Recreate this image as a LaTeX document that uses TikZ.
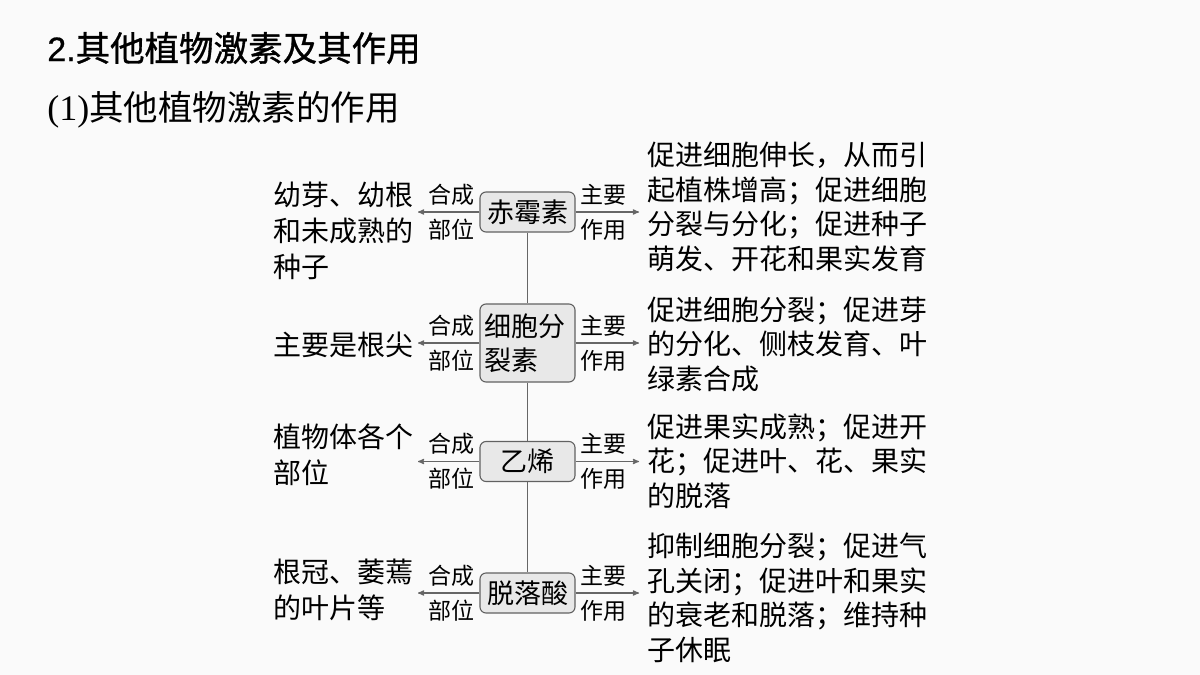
\documentclass[tikz,border=0pt]{standalone}
\usepackage{fontspec}
\setmainfont{Liberation Serif}
\newfontfamily\cjk{Noto Sans CJK SC}
\newfontfamily\cjkhead[FakeBold=1]{Noto Sans CJK SC}
\newfontfamily\arial[FakeBold=0.6]{Liberation Sans}
\usetikzlibrary{arrows, positioning}

\begin{document}
\begin{tikzpicture}[x=1pt, y=-1pt, >=stealth', semithick]
  \tikzstyle{hormone}=[draw=black!62, fill=black!9, rounded corners=6pt, line width=1.1pt, minimum width=95pt, minimum height=40pt, inner sep=4pt, font=\cjk\fontsize{27}{34}\selectfont]
  \tikzstyle{tag}=[inner sep=0pt, align=center, font=\cjk\fontsize{23}{35}\selectfont]
  \tikzstyle{source}=[anchor=west, inner sep=0pt, align=left, font=\cjk\fontsize{28}{36}\selectfont]
  \tikzstyle{effect}=[anchor=west, inner sep=0pt, align=left, font=\cjk\fontsize{28}{34.5}\selectfont]
  \tikzstyle{link}=[draw=black!60, line width=1.2pt]
  \fill[black!2] (0,0) rectangle (1200,675);
  \useasboundingbox (0,0) rectangle (1200,675);
  % headings
  \node[anchor=west, inner sep=0pt] (h1) at (47,48) {\arial\fontsize{34}{36}\selectfont 2.\cjkhead\fontsize{34.5}{36}\selectfont 其他植物激素及其作用};
  \node[anchor=west, inner sep=0pt] (h2) at (47,110) {\fontsize{36}{36}\selectfont (1)\cjk\fontsize{34.5}{36}\selectfont 其他植物激素的作用};
  % hormones
  \node[hormone] (g1) at (527.5,212) {赤霉素};
  \node[hormone, minimum height=78pt, text width=87pt, align=left] (g2) at (527.5,343) {细胞分\\裂素};
  \node[hormone] (g3) at (527.5,461.5) {乙烯};
  \node[hormone] (g4) at (527.5,593) {脱落酸};
  \draw[link] (g1) -- (g2);
  \draw[link] (g2) -- (g3);
  \draw[link] (g3) -- (g4);
  % arrows and tags
  \foreach \g/\y in {g1/212, g2/343, g3/461.5, g4/593}{
    \coordinate (\g l) at (418,\y);
    \coordinate (\g r) at (639,\y);
    \draw[link, ->] (\g) -- (\g l);
    \draw[link, ->] (\g) -- (\g r);
    \node[tag, left=5pt of \g] (\g s) {合成\\部位};
    \node[tag, right=5pt of \g] (\g e) {主要\\作用};
  }
  % where made
  \node[source] (s1) at (273,231) {幼芽、幼根\\和未成熟的\\种子};
  \node[source] (s2) at (273,345) {主要是根尖};
  \node[source] (s3) at (273,455) {植物体各个\\部位};
  \node[source] (s4) at (273,590) {根冠、萎蔫\\的叶片等};
  % what it does
  \node[effect] (e1) at (647,207) {促进细胞伸长，从而引\\起植株增高；促进细胞\\分裂与分化；促进种子\\萌发、开花和果实发育};
  \node[effect] (e2) at (647,344) {促进细胞分裂；促进芽\\的分化、侧枝发育、叶\\绿素合成};
  \node[effect] (e3) at (647,461) {促进果实成熟；促进开\\花；促进叶、花、果实\\的脱落};
  \node[effect] (e4) at (647,598) {抑制细胞分裂；促进气\\孔关闭；促进叶和果实\\的衰老和脱落；维持种\\子休眠};
\end{tikzpicture}
\end{document}
